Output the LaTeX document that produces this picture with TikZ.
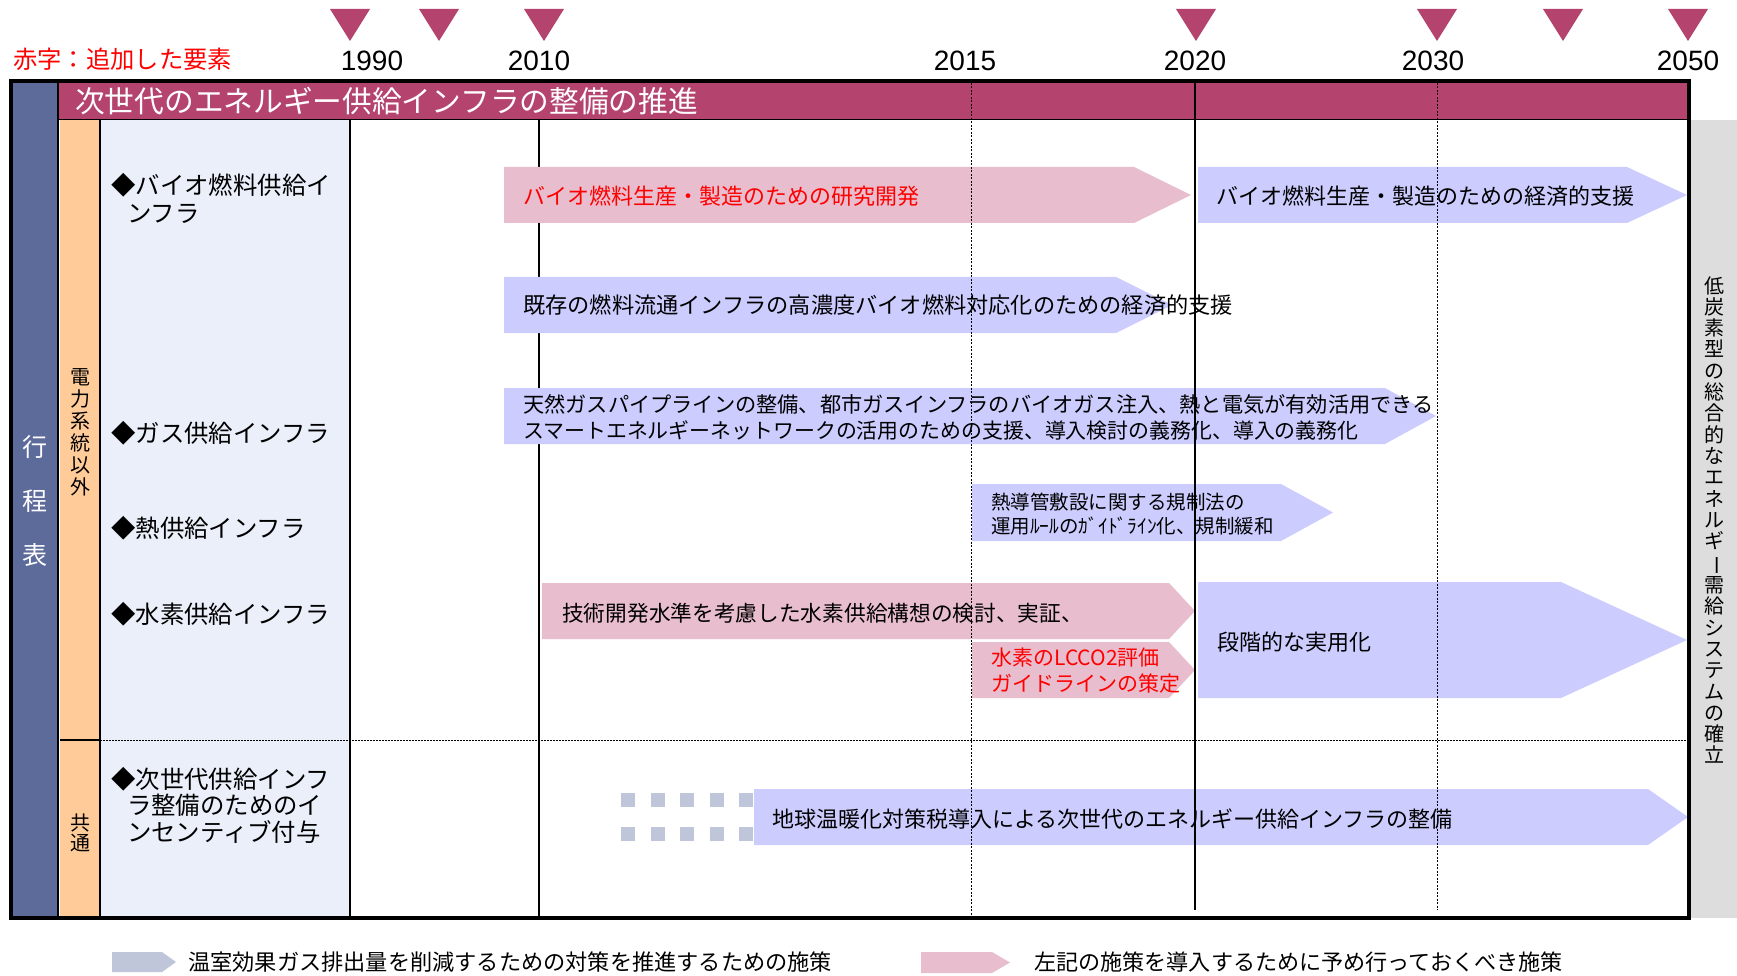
\documentclass[tikz,border=0pt]{standalone}
\usepackage{fontspec}
\setmainfont{Noto Sans CJK JP}
\newfontfamily\arialf{Liberation Sans}
\definecolor{magbar}{HTML}{B4446E}
\definecolor{darkcol}{HTML}{5D6B9B}
\definecolor{orangecol}{HTML}{FFCC99}
\definecolor{lightcol}{HTML}{EAEFFA}
\definecolor{bluearr}{HTML}{CCCCFF}
\definecolor{pinkarr}{HTML}{E8BDCD}
\definecolor{graypanel}{HTML}{DDDDDD}
\definecolor{legblue}{HTML}{C0C6DA}
\definecolor{redtxt}{HTML}{FF0000}
\newcommand{\hparrow}[6]{\fill[#1] (#2,#3) -- (#4,#3) -- (#5,{(#3+#6)/2}) -- (#4,#6) -- (#2,#6) -- cycle;}
\tikzset{
  txt/.style={inner sep=0pt, anchor=west, align=left},
  yearlbl/.style={inner sep=0pt, anchor=center, font=\arialf\fontsize{28}{28}\selectfont},
  vtxt/.style={inner sep=0pt, anchor=center, align=center},
  marker/.style={fill=magbar},
  thinline/.style={line width=1.2pt},
  dashline/.style={line width=0.8pt, dash pattern=on 2pt off 1.5pt},
  dotline/.style={line width=0.8pt, dash pattern=on 1.5pt off 1.5pt},
}
\begin{document}
\begin{tikzpicture}[x=1pt,y=-1pt]
\useasboundingbox (0,0) rectangle (1737,976);
\fill[white] (0,0) rectangle (1737,976);

% triangles (milestone markers)
\foreach \cx in {350,439,544,1196,1437,1563,1688}{
  \fill[marker] (\cx-20,9) -- (\cx+20,9) -- (\cx,41) -- cycle;
}
% years
\node[yearlbl] (y1990) at (372,61) {1990};
\node[yearlbl] (y2010) at (539,61) {2010};
\node[yearlbl] (y2015) at (965,61) {2015};
\node[yearlbl] (y2020) at (1195,61) {2020};
\node[yearlbl] (y2030) at (1433,61) {2030};
\node[yearlbl] (y2050) at (1688,61) {2050};
\node[txt, font=\fontsize{24.3}{28}\selectfont, text=redtxt] (redkey) at (13,59) {赤字：追加した要素};

% panels
\fill[graypanel] (1690,120) rectangle (1737,918);
\fill[darkcol] (12,81) rectangle (58,918);
\fill[magbar] (58,83) rectangle (1689,119);
\fill[orangecol] (60,120) rectangle (100,918);
\fill[lightcol] (101,120) rectangle (350,918);

\draw[thinline] (58,81) -- (58,918);
\draw[thinline] (58,119.5) -- (1689,119.5);
\draw[thinline] (100,120) -- (100,918);
\draw[thinline] (350,120) -- (350,918);
\draw[thinline] (60,740) -- (100,740);
\draw[dotline] (100,740) -- (1688,740);
\draw[thinline] (539,120) -- (539,918);

% header text
\node[txt, font=\fontsize{29.7}{34}\selectfont, text=white] (header) at (75,101) {次世代のエネルギー供給インフラの整備の推進};

% left column texts
\node[vtxt, text=white, font=\fontsize{25}{54}\selectfont] (kotei) at (35,501) {行\\程\\表};
\node[vtxt, font=\fontsize{20}{22}\selectfont] (denryoku) at (80,432) {電\\力\\系\\統\\以\\外};
\node[vtxt, font=\fontsize{20}{20.5}\selectfont] (kyotsu) at (80,833) {共\\通};

\node[txt, font=\fontsize{24.4}{28}\selectfont] (l1) at (111,198) {◆バイオ燃料供給イ\\\hspace*{0.65em}ンフラ};
\node[txt, font=\fontsize{24.4}{28}\selectfont] (l2) at (111,433) {◆ガス供給インフラ};
\node[txt, font=\fontsize{24.4}{28}\selectfont] (l3) at (111,528) {◆熱供給インフラ};
\node[txt, font=\fontsize{24.4}{28}\selectfont] (l4) at (111,614) {◆水素供給インフラ};
\node[txt, font=\fontsize{24.4}{26.5}\selectfont] (l5) at (111,805) {◆次世代供給インフ\\\hspace*{0.65em}ラ整備のためのイ\\\hspace*{0.65em}ンセンティブ付与};

% arrows
\hparrow{pinkarr}{504}{167}{1134}{1191}{223}
\hparrow{bluearr}{1198}{167}{1627}{1687}{223}
\hparrow{bluearr}{504}{277}{1116}{1172}{333}
\hparrow{bluearr}{504}{388}{1385}{1436}{444}
\hparrow{bluearr}{972}{484}{1281}{1333}{541}
\hparrow{pinkarr}{542}{583}{1169}{1195}{639}
\hparrow{pinkarr}{972}{642}{1169}{1195}{698}
\hparrow{bluearr}{1198}{582}{1561}{1687}{698}
\foreach \i in {0,...,4}{
  \fill[legblue] (621+29.6*\i,793) rectangle ++(14,14);
  \fill[legblue] (621+29.6*\i,827) rectangle ++(14,14);
}
\hparrow{bluearr}{754}{789}{1648}{1688}{845}

% arrow texts
\node[txt, font=\fontsize{22}{26}\selectfont, text=redtxt] (t1) at (523,196) {バイオ燃料生産・製造のための研究開発};
\node[txt, font=\fontsize{22}{26}\selectfont] (t2) at (1216,196) {バイオ燃料生産・製造のための経済的支援};
\node[txt, font=\fontsize{22.2}{26}\selectfont] (t3) at (523,305) {既存の燃料流通インフラの高濃度バイオ燃料対応化のための経済的支援};
\node[txt, font=\fontsize{21}{26}\selectfont] (t4) at (523,417) {{\fontsize{21.2}{26}\selectfont 天然ガスパイプラインの整備、都市ガスインフラのバイオガス注入、熱と電気が有効活用できる}\\{\fontsize{20.9}{26}\selectfont スマートエネルギーネットワークの活用のための支援、導入検討の義務化、導入の義務化}};
\node[txt, font=\fontsize{19.5}{24}\selectfont] (t5) at (991,514) {熱導管敷設に関する規制法の\\運用ﾙｰﾙのｶﾞｲﾄﾞﾗｲﾝ化、規制緩和};
\node[txt, font=\fontsize{21.7}{26}\selectfont] (t6) at (562,613) {技術開発水準を考慮した水素供給構想の検討、実証、};
\node[txt, font=\fontsize{21}{26}\selectfont, text=redtxt] (t7) at (991,671) {水素のLCCO2評価\\ガイドラインの策定};
\node[txt, font=\fontsize{22}{26}\selectfont] (t8) at (1217,642) {段階的な実用化};
\node[txt, font=\fontsize{22}{26}\selectfont] (t9) at (772,819) {地球温暖化対策税導入による次世代のエネルギー供給インフラの整備};

% year lines over arrows
\draw[dashline] (971,83) -- (971,918);
\draw[thinline] (1195,83) -- (1195,910);
\draw[dashline] (1437,83) -- (1437,910);

% outer frame
\draw[line width=3.5pt] (11,81) rectangle (1689,918);

% right panel text
\node[vtxt, font=\fontsize{20}{21.3}\selectfont] (goal) at (1714,520) {低\\炭\\素\\型\\の\\総\\合\\的\\な\\エ\\ネ\\ル\\ギ\\\rotatebox[origin=c]{-90}{ー}\\需\\給\\シ\\ス\\テ\\ム\\の\\確\\立};

% legend
\hparrow{legblue}{112}{952}{162}{176}{972}
\node[txt, font=\fontsize{22.2}{26}\selectfont] (leg1) at (188,962) {温室効果ガス排出量を削減するための対策を推進するための施策};
\hparrow{pinkarr}{921}{952}{992}{1010}{973}
\node[txt, font=\fontsize{22.1}{26}\selectfont] (leg2) at (1034,962) {左記の施策を導入するために予め行っておくべき施策};
\end{tikzpicture}
\end{document}
